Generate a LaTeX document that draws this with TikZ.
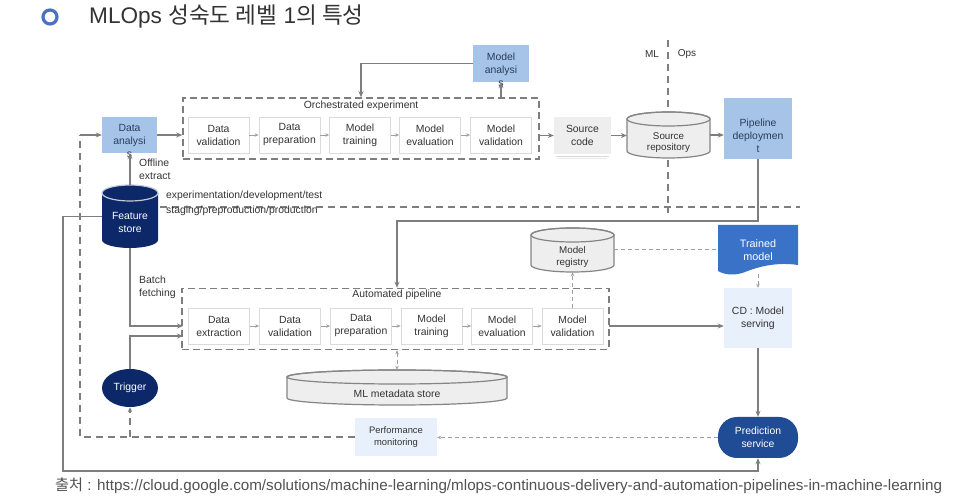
\documentclass[tikz,border=0pt]{standalone}
\usepackage{fontspec}
\setmainfont{Liberation Sans}
\newfontfamily\cjk{Noto Sans CJK KR}
\usetikzlibrary{arrows.meta,calc,shapes.geometric}
\definecolor{lnc}{HTML}{7E7E7E}
\definecolor{lnlight}{HTML}{A0A0A0}
\definecolor{boxbd}{HTML}{DADADA}
\definecolor{txt}{HTML}{333333}
\definecolor{ltblue}{HTML}{A6C4E8}
\definecolor{ltbluetxt}{HTML}{2A3D5C}
\definecolor{navy}{HTML}{0C2868}
\definecolor{predblue}{HTML}{204C96}
\definecolor{trainblue}{HTML}{3A72C8}
\definecolor{paleblue}{HTML}{E8F0FB}
\definecolor{cylfill}{HTML}{EEEEEE}
\definecolor{cylbd}{HTML}{858585}
\definecolor{ringblue}{HTML}{4A72C4}
\newcommand{\mycyl}[6]{%
  \path[#6] ({#1-#4},{#2+#5}) -- ({#1-#4},{#3-#5})
    arc[start angle=180,end angle=360,x radius=#4pt,y radius=#5pt]
    -- ({#1+#4},{#2+#5})
    arc[start angle=0,end angle=180,x radius=#4pt,y radius=#5pt] -- cycle;
}
\newcommand{\mycyltop}[5]{%
  \path[#5] (#1,{#2+#3}) ellipse[x radius=#4pt,y radius=#3pt];
}
\begin{document}
\begin{tikzpicture}[x=1pt,y=-1pt,
  boxfont/.style={font=\fontsize{10.4}{13}\selectfont},
  stage/.style={draw=boxbd, fill=white, line width=0.8, minimum width=61, minimum height=36, inner sep=0, align=center, text=txt, boxfont},
  bluebox/.style={draw=none, fill=ltblue, inner sep=0},
  lbl/.style={align=center, inner sep=0, text=txt, boxfont},
  holder/.style={draw=none, inner sep=0},
  grpbox/.style={draw=lnc, line width=1.5, dash pattern=on 7pt off 4pt, inner sep=0},
  conn/.style={draw=lnc, line width=1.6, -{Stealth[length=6pt,width=5pt]}},
  small/.style={draw=lnlight, line width=0.9, -{Stealth[length=4pt,width=3.5pt]}},
  thickdash/.style={draw=lnc, line width=1.6, dash pattern=on 7pt off 5pt},
  finedash/.style={draw=lnlight, line width=1, dash pattern=on 4pt off 3pt},
]
\useasboundingbox (0,0) rectangle (954,502);
\fill[white] (0,0) rectangle (954,502);

% title
\draw[ringblue, line width=3.2] (50,17) circle[radius=7pt];
\node[anchor=west, inner sep=0, text=txt, font=\fontsize{22.6}{26}\selectfont] (title) at (89,17) {MLOps {\cjk 성숙도 레벨} 1{\cjk 의 특성}};

% boundary lines
\coordinate (hl1) at (160,207);
\coordinate (hl2) at (800,207);
\draw[thickdash] (hl1) -- (hl2);
\coordinate (vt) at (668,40);
\coordinate (vb) at (668,213);
\draw[thickdash] (vt) -- (vb);
\node[anchor=center, lbl, font=\fontsize{10}{12}\selectfont] (mllab) at (652,54) {ML};
\node[anchor=center, lbl, font=\fontsize{10}{12}\selectfont] (opslab) at (687,54) {Ops};
\node[anchor=west, lbl] (envtop) at (166,196) {experimentation/development/test};
\node[anchor=west, lbl] (envbot) at (166,211) {staging/preproduction/production};

% orchestrated experiment
\node[grpbox, minimum width=356, minimum height=61] (orch) at (361,128.5) {};
\node[lbl] (orchlab) at (361,106) {Orchestrated experiment};
\node[stage] (o1) at (218.5,135) {Data\\validation};
\node[stage] (o2) at (289.5,135) {Data\\preparation};
\node[stage] (o3) at (360,135) {Model\\training};
\node[stage] (o4) at (430,135) {Model\\evaluation};
\node[stage] (o5) at (501,135) {Model\\validation};
\draw[small] (o1) -- (o2);
\draw[small] (o2) -- (o3);
\draw[small] (o3) -- (o4);
\draw[small] (o4) -- (o5);

% data analysis
\node[bluebox, minimum width=55, minimum height=36] (da) at (129.5,135) {};
\node[lbl, text=ltbluetxt] (dalab) at (129.5,141) {Data\\analysi\\s};
\draw[conn] (da.east) -- (da.east -| orch.west);

% model analysis
\node[bluebox, minimum width=56, minimum height=37] (ma) at (501,63.5) {};
\node[lbl, text=ltbluetxt] (malab) at (501,70) {Model\\analysi\\s};
\draw[conn] (ma.south |- orch.north) -- (ma.south);
\draw[conn] (ma.west) -| (orch.north);

% source code
\draw[boxbd, line width=0.8] (556,156) -- (609,156);
\draw[boxbd!60, line width=0.8] (558,158.5) -- (607,158.5);
\node[draw=none, fill=cylfill, minimum width=57, minimum height=37, inner sep=0] (sc) at (582.5,135.5) {};
\node[lbl] (sclab) at (582.5,135.5) {Source\\code};
\draw[conn] (sc.west -| orch.east) -- (sc.west);

% source repository
\mycyl{668.5}{112}{158}{41.5}{7}{fill=cylfill, draw=cylbd, line width=1.2}
\mycyltop{668.5}{112}{7}{41.5}{draw=cylbd, line width=1.2}
\node[holder, minimum width=83, minimum height=46] (sr) at (668.5,135) {};
\node[lbl, font=\fontsize{9.8}{11}\selectfont] (srlab) at (668.5,143) {Source\\repository};
\draw[conn] (sc.east) -- (sr.west |- sc.east);

% pipeline deployment
\node[bluebox, minimum width=68, minimum height=61] (pd) at (758,128.5) {};
\node[lbl, text=ltbluetxt] (pdlab) at (758,136) {Pipeline\\deploymen\\t};
\draw[conn] (sr.east) -- (sr.east -| pd.west);

% feature store
\mycyl{130}{185}{248}{28}{8}{fill=navy}
\mycyltop{130}{185}{8}{28}{draw=white!75!navy, line width=1.2}
\node[holder, minimum width=56, minimum height=63] (fs) at (130,216.5) {};
\node[lbl, text=white] (fslab) at (130,222.5) {Feature\\store};
\draw[conn] (fs.north) -- (da.south -| fs.north);
\node[lbl, anchor=west, align=left] (offl) at (139,169) {Offline\\extract};

% trigger
\node[ellipse, fill=navy, minimum width=56, minimum height=38, inner sep=0, text=white, boxfont] (trig) at (130,388) {Trigger};

% automated pipeline
\node[grpbox, minimum width=427, minimum height=61] (ap) at (395.5,319) {};
\node[lbl] (aplab) at (397,294.5) {Automated pipeline};
\node[stage] (a1) at (219,326) {Data\\extraction};
\node[stage] (a2) at (290,326) {Data\\validation};
\node[stage] (a3) at (361,326) {Data\\preparation};
\node[stage] (a4) at (431.5,326) {Model\\training};
\node[stage] (a5) at (502,326) {Model\\evaluation};
\node[stage] (a6) at (572.5,326) {Model\\validation};
\draw[small] (a1) -- (a2);
\draw[small] (a2) -- (a3);
\draw[small] (a3) -- (a4);
\draw[small] (a4) -- (a5);
\draw[small] (a5) -- (a6);

\coordinate (apin1) at (183,326);
\coordinate (apin2) at (183,336);
\draw[conn] (fs.south) |- (apin1);
\draw[conn] (trig.north) |- (apin2);
\node[lbl, anchor=west, align=left] (batch) at (139,287) {Batch\\fetching};

\coordinate (pdbend) at (397,221);
\draw[conn] (pd.south) |- (pdbend) -- (pdbend |- ap.north);

% model registry
\mycyl{572.5}{228}{272}{41.5}{7}{fill=cylfill, draw=cylbd, line width=1.2}
\mycyltop{572.5}{228}{7}{41.5}{draw=cylbd, line width=1.2}
\node[holder, minimum width=83, minimum height=44] (mr) at (572.5,250) {};
\node[lbl, font=\fontsize{9.8}{12}\selectfont] (mrlab) at (572.5,257) {Model\\registry};
\draw[finedash, -{Stealth[length=4pt,width=3.5pt]}] (a6.north) -- (mr.south);

% ML metadata store
\mycyl{397}{370}{405}{110}{7}{fill=cylfill, draw=cylbd, line width=1.2}
\mycyltop{397}{370}{7}{110}{draw=cylbd, line width=1.2}
\node[holder, minimum width=220, minimum height=35] (md) at (397,387.5) {};
\node[lbl] (mdlab) at (397,394) {ML metadata store};
\draw[finedash, {Stealth[length=4pt,width=3.5pt]}-{Stealth[length=4pt,width=3.5pt]}] (md.north |- ap.south) -- (md.north);

% trained model
\fill[trainblue] (718,225) -- (798,225) -- (798,265) .. controls (778,262) and (760,266) .. (745,272) .. controls (735,276) and (725,275) .. (718,271) -- cycle;
\node[holder, minimum width=80, minimum height=47] (tm) at (758,248.5) {};
\node[lbl, text=white, font=\fontsize{10.8}{13}\selectfont] (tmlab) at (758,250) {Trained\\model};
\draw[finedash] (mr.east) -- (tm.west |- mr.east);

% CD model serving
\node[draw=none, fill=paleblue, minimum width=68, minimum height=60, inner sep=0] (cd) at (758,318) {};
\node[lbl] (cdlab) at (758,318) {CD : Model\\serving};
\draw[finedash, -{Stealth[length=4pt,width=3.5pt]}] (758,274) -- (cd.north);
\coordinate (apout) at (609,326);
\draw[conn] (apout) -- (apout -| cd.west);

% prediction service
\node[draw=none, fill=predblue, rounded corners=19, minimum width=80, minimum height=41, inner sep=0] (ps) at (758,437.5) {};
\node[lbl, text=white] (pslab) at (758,437.5) {Prediction\\service};
\draw[conn] (cd.south) -- (ps.north);

% performance monitoring
\node[draw=none, fill=paleblue, minimum width=82, minimum height=38, inner sep=0] (pm) at (396,437) {};
\node[lbl, font=\fontsize{9.4}{12}\selectfont] (pmlab) at (396,437) {Performance\\monitoring};
\draw[finedash, -{Stealth[length=4pt,width=3.5pt]}] (ps.west) -- (pm.east |- ps.west);

% feedback loops
\coordinate (lc) at (80,135);
\draw[thickdash] (pm.west) -| (lc);
\draw[draw=lnc, line width=1.6, -{Stealth[length=6pt,width=5pt]}] (lc) -- (da.west);
\coordinate (tb) at (130,437);
\draw[thickdash, -{Stealth[length=5pt,width=4.5pt]}] (tb) -- (trig.south);
\coordinate (bl) at (63,471);
\draw[conn] (fs.west) -| (bl) -| (ps.south);

% caption
\node[anchor=west, inner sep=0, text=txt!85!white, font=\fontsize{15.2}{18}\selectfont] (cap) at (55,486) {{\cjk 출처} : https://cloud.google.com/solutions/machine-learning/mlops-continuous-delivery-and-automation-pipelines-in-machine-learning};
\end{tikzpicture}
\end{document}
